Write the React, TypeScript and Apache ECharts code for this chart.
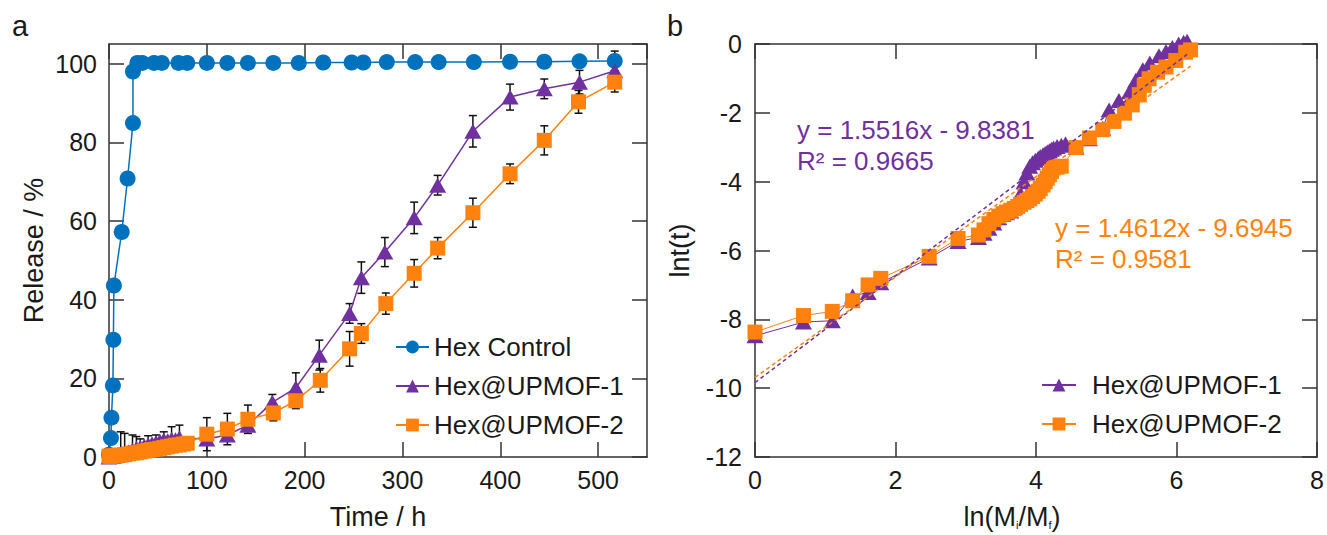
import React, { useEffect, useRef } from "react";
import * as echarts from "echarts";

// ---------- Panel a: release vs time ----------
const blueT = [0, 2, 2.5, 4, 4.5, 5, 13, 19, 24.5, 24.5, 29, 34, 46, 54, 71, 80, 100, 121, 142, 168, 194, 219, 248, 260, 284, 313, 337, 373, 410, 445, 481, 517];
const blueR = [0.6, 4.8, 10, 18.2, 29.8, 43.6, 57.2, 70.8, 84.9, 98, 100.2, 100.2, 100.2, 100.2, 100.2, 100.2, 100.2, 100.2, 100.2, 100.2, 100.2, 100.3, 100.3, 100.3, 100.4, 100.4, 100.4, 100.4, 100.5, 100.5, 100.6, 100.7];
const blueErr = [0, 0, 0, 0, 0, 0, 0, 0, 0, 0, 0, 0, 0, 0, 0, 0, 0, 0, 0, 0, 0, 0, 0, 0, 0, 0, 0, 0, 0, 0, 0, 2.5];

const purpleT = [0, 2, 4, 6, 8, 12, 16, 20, 24, 28, 32, 36, 40, 44, 48, 52, 56, 60, 64, 68, 72, 100, 121, 142, 167, 191, 215, 246, 258, 282, 312, 336, 372, 410, 445, 481, 517];
const purpleR = [0, 0.1, 0.2, 0.3, 0.4, 0.6, 0.9, 1.3, 1.8, 2.2, 2.5, 2.8, 3.1, 3.4, 3.6, 4.0, 4.3, 4.1, 4.5, 4.4, 4.8, 4.6, 5.6, 8.1, 13.9, 17.6, 25.9, 36.5, 45.6, 52.1, 60.8, 69.1, 82.8, 91.5, 93.6, 95.3, 98.2];
const purpleErr = [0, 0, 0, 0, 0, 5.8, 5.1, 0, 3.8, 3.0, 2.1, 0, 2.3, 0, 2.0, 0, 2.1, 0, 3.2, 0, 3.3, 0, 0, 0, 2, 3.8, 3.8, 2.5, 4, 3.7, 4, 2.5, 4, 3.3, 2.5, 3, 2];

const orangeT = [0, 2, 4, 6, 8, 12, 16, 20, 24, 28, 32, 36, 40, 44, 48, 52, 56, 60, 64, 68, 72, 76, 80, 100, 121, 142, 168, 191, 216, 246, 258, 283, 312, 336, 372, 410, 445, 480, 517];
const orangeR = [0.2, 0.2, 0.3, 0.3, 0.4, 0.5, 0.6, 0.8, 1.0, 1.1, 1.3, 1.5, 1.7, 1.9, 2.0, 2.2, 2.4, 2.6, 2.8, 3.0, 3.1, 3.3, 3.5, 5.8, 7.1, 9.6, 11.2, 14.3, 19.5, 27.5, 31.4, 39, 46.7, 53.1, 62.1, 72, 80.5, 90.3, 95.3];
const orangeErr = [0, 0, 0, 0, 0, 0, 0, 0, 0, 0, 0, 0, 0, 0, 0, 0, 0, 0, 0, 0, 0, 0, 0, 4.2, 4, 3.6, 2, 2, 3, 4.4, 2.5, 2.7, 3.5, 2.7, 3.7, 2.5, 3.7, 2.9, 2.5];

// ---------- Panel b: lnt(t) vs ln(Mi/Mf) ----------
const purpleBX = [0, 0.69, 1.10, 1.39, 1.61, 1.79, 2.48, 2.89, 3.18, 3.26, 3.33, 3.40, 3.47, 3.53, 3.58, 3.64, 3.69, 3.74, 3.78, 3.83, 3.87, 3.91, 3.95, 3.99, 4.03, 4.06, 4.10, 4.13, 4.16, 4.19, 4.22, 4.25, 4.30, 4.36, 4.42, 4.57, 4.76, 4.95, 5.04, 5.18, 5.33, 5.42, 5.52, 5.62, 5.75, 5.85, 5.94, 6.03, 6.10, 6.15];
const purpleBY = [-8.48, -8.08, -8.04, -7.32, -7.22, -6.94, -6.22, -5.74, -5.62, -5.5, -5.35, -5.2, -5.05, -4.95, -4.9, -4.85, -4.75, -4.6, -4.35, -4.0, -3.75, -3.55, -3.45, -3.38, -3.32, -3.27, -3.22, -3.18, -3.14, -3.1, -3.06, -3.02, -2.98, -2.94, -2.9, -3.0, -2.75, -2.45, -1.92, -1.64, -1.39, -1.05, -0.75, -0.55, -0.34, -0.22, -0.1, 0.0, 0.05, 0.08];

const orangeBX = [0, 0.69, 1.10, 1.39, 1.61, 1.79, 2.48, 2.89, 3.18, 3.26, 3.33, 3.40, 3.47, 3.53, 3.58, 3.64, 3.69, 3.74, 3.78, 3.83, 3.87, 3.91, 3.95, 3.99, 4.03, 4.06, 4.10, 4.13, 4.16, 4.19, 4.22, 4.25, 4.30, 4.36, 4.57, 4.76, 4.95, 5.11, 5.26, 5.37, 5.47, 5.54, 5.61, 5.73, 5.85, 5.99, 6.13, 6.20];
const orangeBY = [-8.37, -7.89, -7.77, -7.46, -7.0, -6.81, -6.17, -5.65, -5.55, -5.4, -5.22, -5.1, -5.0, -4.93, -4.88, -4.83, -4.78, -4.72, -4.66, -4.6, -4.55, -4.5, -4.43, -4.36, -4.28, -4.2, -4.1, -4.0, -3.9, -3.8, -3.7, -3.6, -3.58, -3.55, -3.01, -2.73, -2.49, -2.25, -2.01, -1.77, -1.48, -1.2, -1.01, -0.82, -0.67, -0.48, -0.24, -0.17];

// fit line endpoints [x, y]
const purpleFit = [[0, -9.84], [6.15, -0.30]];
const orangeFit = [[0, -9.69], [6.2, -0.64]];

const xTicksA = { min: 0, max: 550, interval: 100 };
const yTicksA = { min: 0, max: 105, interval: 20 };
const xTicksB = { min: 0, max: 8, interval: 2 };
const yTicksB = { min: -12, max: 0, interval: 2 };

const BLUE = "#0072BD";
const PURPLE = "#7030A0";
const ORANGE = "#FF820E";
const AX = "#333333";
const TXT = "#1a1a1a";
const FONT = '"Liberation Sans", Arial, sans-serif';

const zip = (xs: number[], ys: number[]) => xs.map((x, i) => [x, ys[i]]);
const errData = (xs: number[], ys: number[], es: number[]) =>
  xs.map((x, i) => [x, ys[i], es[i]]).filter((d) => d[2] > 0);

export default function App() {
  const ref = useRef<HTMLDivElement>(null);
  useEffect(() => {
    if (!ref.current) return;
    const chart = echarts.init(ref.current, null, { renderer: "svg" });

    const axisCommon = {
      type: "value",
      axisLine: { show: true, onZero: false, lineStyle: { color: AX, width: 1.5 } },
      axisTick: { show: true, inside: true, length: 15, lineStyle: { color: AX, width: 1.5 } },
      splitLine: { show: false },
    };
    const lbl = (margin: number) => ({
      fontSize: 25,
      color: TXT,
      fontFamily: FONT,
      margin,
    });
    const nameStyle = { fontSize: 27, color: TXT, fontFamily: FONT };

    const errRender = (params: any, api: any) => {
      const x = api.value(0);
      const y = api.value(1);
      const e = api.value(2);
      const p1 = api.coord([x, y + e]);
      const p2 = api.coord([x, y - e]);
      const w = 4;
      const style = { stroke: "#111", lineWidth: 1.5 };
      return {
        type: "group",
        children: [
          { type: "line", shape: { x1: p1[0], y1: p1[1], x2: p2[0], y2: p2[1] }, style },
          { type: "line", shape: { x1: p1[0] - w, y1: p1[1], x2: p1[0] + w, y2: p1[1] }, style },
          { type: "line", shape: { x1: p2[0] - w, y1: p2[1], x2: p2[0] + w, y2: p2[1] }, style },
        ],
      };
    };

    const errSeries = (data: number[][]) => ({
      type: "custom",
      xAxisIndex: 0,
      yAxisIndex: 0,
      renderItem: errRender,
      data,
      encode: { x: 0, y: 1 },
      clip: true,
      z: 1,
      silent: true,
    });

    const lineSeries = (name: string, xi: number, data: number[][], symbol: string, size: any, color: string, width: number, z: number) => ({
      name,
      type: "line",
      xAxisIndex: xi,
      yAxisIndex: xi,
      data,
      symbol,
      symbolSize: size,
      showAllSymbol: true,
      showSymbol: true,
      itemStyle: { color, opacity: 1 },
      lineStyle: { color, width },
      clip: false,
      z,
    });

    const option: any = {
      animation: false,
      backgroundColor: "#ffffff",
      textStyle: { fontFamily: FONT },
      grid: [
        { left: 109, top: 44, width: 538, height: 421 },
        { left: 755, top: 44, width: 563, height: 421 },
      ],
      xAxis: [
        {
          ...axisCommon,
          gridIndex: 0,
          position: "bottom",
          ...xTicksA,
          axisLabel: { ...lbl(10), showMaxLabel: false },
          name: "Time / h",
          nameLocation: "middle",
          nameGap: 46,
          nameTextStyle: nameStyle,
        },
        { ...axisCommon, gridIndex: 0, position: "top", ...xTicksA, axisLabel: { show: false } },
        {
          ...axisCommon,
          gridIndex: 1,
          position: "bottom",
          ...xTicksB,
          axisLabel: lbl(10),
          name: "ln(M{sub|i}/M{sub|f})",
          nameLocation: "middle",
          nameGap: 46,
          nameTextStyle: {
            ...nameStyle,
            padding: [0, 48, 0, 0],
            rich: { sub: { fontSize: 11, fontFamily: FONT, color: TXT, verticalAlign: "bottom" } },
          },
        },
        { ...axisCommon, gridIndex: 1, position: "top", ...xTicksB, axisLabel: { show: false } },
      ],
      yAxis: [
        {
          ...axisCommon,
          gridIndex: 0,
          position: "left",
          ...yTicksA,
          axisLabel: { ...lbl(12), showMaxLabel: false },
          name: "Release / %",
          nameLocation: "middle",
          nameGap: 62,
          nameTextStyle: nameStyle,
        },
        { ...axisCommon, gridIndex: 0, position: "right", ...yTicksA, axisLabel: { show: false } },
        {
          ...axisCommon,
          gridIndex: 1,
          position: "left",
          ...yTicksB,
          axisLabel: lbl(13),
          name: "lnt(t)",
          nameLocation: "middle",
          nameGap: 62,
          nameTextStyle: nameStyle,
        },
        { ...axisCommon, gridIndex: 1, position: "right", ...yTicksB, axisLabel: { show: false } },
      ],
      legend: [
        {
          orient: "vertical",
          left: 395,
          top: 334,
          padding: 0,
          itemWidth: 33,
          itemHeight: 16,
          itemGap: 13,
          data: ["Hex Control", "Hex@UPMOF-1", "Hex@UPMOF-2"],
          textStyle: { fontSize: 26, color: TXT, fontFamily: FONT, lineHeight: 26 },
          selectedMode: false,
        },
        {
          orient: "vertical",
          left: 1041,
          top: 372,
          padding: 0,
          itemWidth: 34,
          itemHeight: 16,
          itemGap: 13,
          data: ["Hex@UPMOF-1", "Hex@UPMOF-2"],
          textStyle: { fontSize: 26, color: TXT, fontFamily: FONT, lineHeight: 26, padding: [0, 0, 0, 11] },
          selectedMode: false,
        },
      ],
      series: [
        errSeries(errData(blueT, blueR, blueErr)),
        errSeries(errData(purpleT, purpleR, purpleErr)),
        errSeries(errData(orangeT, orangeR, orangeErr)),
        lineSeries("Hex Control", 0, zip(blueT, blueR), "circle", 16, BLUE, 1.5, 3),
        lineSeries("Hex@UPMOF-1", 0, zip(purpleT, purpleR), "triangle", [17, 15], PURPLE, 1.5, 4),
        lineSeries("Hex@UPMOF-2", 0, zip(orangeT, orangeR), "rect", 15, ORANGE, 1.5, 5),
        lineSeries("Hex@UPMOF-1", 2, zip(purpleBX, purpleBY), "triangle", [17, 15], PURPLE, 1, 3),
        lineSeries("Hex@UPMOF-2", 2, zip(orangeBX, orangeBY), "rect", 15, ORANGE, 1, 4),
        {
          name: "fit1",
          type: "line",
          xAxisIndex: 2,
          yAxisIndex: 2,
          data: purpleFit,
          symbol: "none",
          lineStyle: { color: PURPLE, width: 1.5, type: [4, 3] },
          z: 6,
          silent: true,
        },
        {
          name: "fit2",
          type: "line",
          xAxisIndex: 2,
          yAxisIndex: 2,
          data: orangeFit,
          symbol: "none",
          lineStyle: { color: ORANGE, width: 1.5, type: [4, 3] },
          z: 6,
          silent: true,
        },
      ],
      graphic: [
        { type: "text", x: 12, y: 26, style: { text: "a", font: `29px ${FONT}`, fill: TXT, verticalAlign: "middle" } },
        { type: "text", x: 667, y: 26, style: { text: "b", font: `29px ${FONT}`, fill: TXT, verticalAlign: "middle" } },
        { type: "text", x: 797, y: 130, z: 10, style: { text: "y = 1.5516x - 9.8381", font: `26px ${FONT}`, fill: PURPLE, verticalAlign: "middle" } },
        { type: "text", x: 797, y: 161, z: 10, style: { text: "R² = 0.9665", font: `26px ${FONT}`, fill: PURPLE, verticalAlign: "middle" } },
        { type: "text", x: 1055, y: 228, z: 10, style: { text: "y = 1.4612x - 9.6945", font: `26px ${FONT}`, fill: ORANGE, verticalAlign: "middle" } },
        { type: "text", x: 1055, y: 259, z: 10, style: { text: "R² = 0.9581", font: `26px ${FONT}`, fill: ORANGE, verticalAlign: "middle" } },
      ],
    };

    chart.setOption(option);
    return () => chart.dispose();
  }, []);

  return (
    <div
      ref={ref}
      style={{ position: "absolute", left: 0, top: 0, width: 1327, height: 535, background: "#fff" }}
    />
  );
}
